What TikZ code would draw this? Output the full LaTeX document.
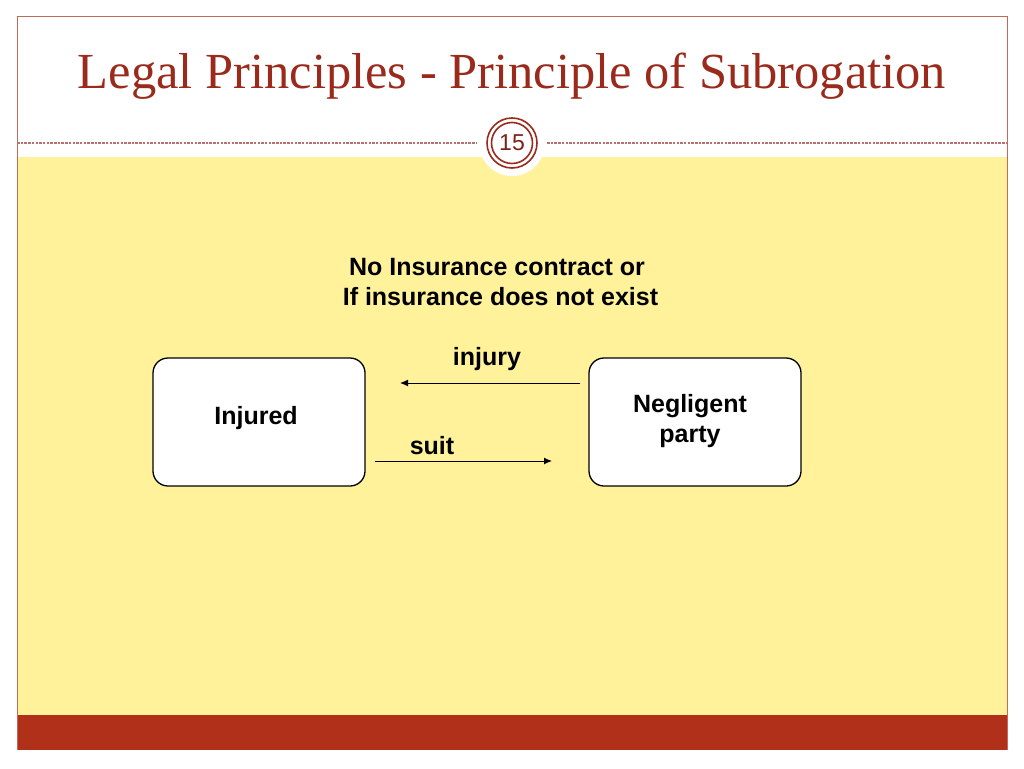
\documentclass[tikz,border=0pt]{standalone}
\usepackage{fontspec}
\setmainfont{Liberation Serif}
\setsansfont{Liberation Sans}
\definecolor{frameline}{HTML}{C06A5A}
\definecolor{slideyellow}{HTML}{FFF29B}
\definecolor{barred}{HTML}{B0301A}
\definecolor{titlered}{HTML}{9A2A1B}
\definecolor{dashcol}{HTML}{B87070}
\tikzset{
  box/.style={draw=black, line width=1.3pt, fill=white, rounded corners=15pt, minimum width=212pt, minimum height=128pt, inner sep=0pt},
  lbl/.style={font=\sffamily\bfseries\fontsize{25}{29.5}\selectfont, text=black, inner sep=0pt, align=center},
  conn/.style={draw=black, line width=1pt, -{Latex[length=8pt,width=7pt]}},
}
\usetikzlibrary{arrows.meta}
\begin{document}
\begin{tikzpicture}[x=1pt,y=-1pt]
\useasboundingbox (0,0) rectangle (1024,768);
\fill[white] (0,0) rectangle (1024,768);
% yellow body and red bar
\fill[slideyellow] (17,157) rectangle (1007,715);
\fill[barred] (17,715) rectangle (1007,750);
% frame
\draw[frameline, line width=1pt] (17,750) -- (17,17) -- (1007,17) -- (1007,750);
% dashed separator
\draw[dashcol, line width=1.2pt, dash pattern=on 2.5pt off 1.2pt] (17,143) -- (476,143);
\draw[dashcol, line width=1.2pt, dash pattern=on 2.5pt off 1.2pt] (547,143) -- (1007,143);
% page number circle
\fill[white] (512,143) circle (33);
\draw[titlered, line width=1.6pt] (512,143) circle (25);
\draw[titlered, line width=1.6pt] (512,143) circle (20.5);
\node[font=\sffamily\fontsize{23}{26}\selectfont, text=titlered!80!black] (pnum) at (512,143) {15};
% title
\node[font=\fontsize{50.5}{55}\selectfont, text=titlered, anchor=base, inner sep=0pt] (title) at (512,88) {Legal Principles - Principle of Subrogation};
% heading text
\node[lbl, anchor=center] (cond) at (497,282) {No Insurance contract or\\\phantom{i}If insurance does not exist};
% boxes
\node[box] (injured) at (259,422) {};
\node[lbl] (injuredtxt) at (256,418) {Injured};
\node[box] (negl) at (695,422) {};
\node[lbl] (negltxt) at (690,421) {Negligent\\party};
% arrows
\coordinate (injS) at (580,383);
\coordinate (injE) at (400,383);
\coordinate (suitS) at (375,461);
\coordinate (suitE) at (552,461);
\draw[conn] (injS) -- (injE);
\draw[conn] (suitS) -- (suitE);
\node[lbl] (injlbl) at (487,359) {injury};
\node[lbl] (suitlbl) at (432,446) {suit};
\end{tikzpicture}
\end{document}
